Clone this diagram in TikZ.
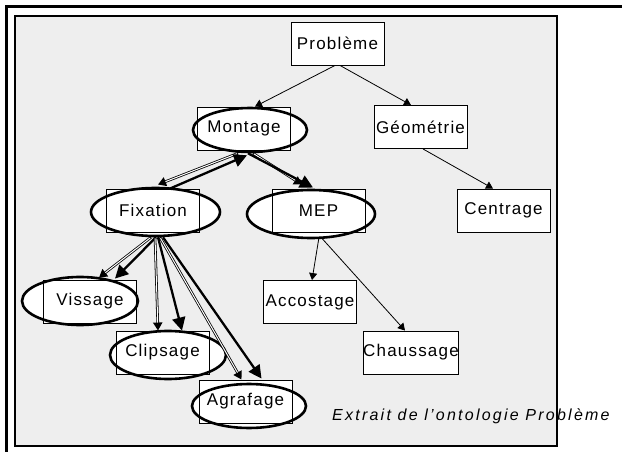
\documentclass[tikz,border=0pt]{standalone}
\usepackage{fontspec}
\setmainfont{Liberation Sans}
\newfontfamily\lblfont[LetterSpace=7]{Liberation Sans}
\newfontfamily\capfont[LetterSpace=14]{Liberation Sans}
\usetikzlibrary{arrows.meta,shapes.geometric}
\definecolor{panel}{RGB}{238,238,238}
\begin{document}
\begin{tikzpicture}[x=1pt,y=-1pt,
  lbl/.style={font=\lblfont\fontsize{17}{20}\selectfont},
  conceptbox/.style={draw=black, fill=white, line width=0.9pt,
    minimum width=93pt, minimum height=43pt, inner sep=0pt, lbl},
  ringfill/.style={ellipse, fill=white, inner sep=0pt},
  ring/.style={ellipse, draw=black, line width=2.6pt, inner sep=0pt},
  link/.style={line width=0.8pt, -{Triangle[length=7pt,width=8pt]}},
  hollow/.style={line width=2.6pt, -{Triangle[length=8pt,width=9pt]},
    postaction={draw=white, line width=1.0pt, arrows=-, shorten >=8pt, shorten <=1pt}},
  heavy/.style={line width=2.3pt, -{Triangle[length=13pt,width=13pt]}},
]
\useasboundingbox (0,0) rectangle (622,452);
% page frame and grey panel
\fill[white] (0,0) rectangle (622,452);
\draw[line width=3pt] (6,452) -- (6,7) -- (622,7);
\draw[fill=panel, line width=1.3pt] (15,16) rectangle (557,446);

% white interiors of the ringed concepts
\node[ringfill, minimum width=114pt, minimum height=44pt] at (250,130) {};
\node[ringfill, minimum width=129pt, minimum height=48pt] at (155.5,212) {};
\node[ringfill, minimum width=128pt, minimum height=48pt] at (311,214) {};
\node[ringfill, minimum width=116pt, minimum height=48pt] at (80,301) {};
\node[ringfill, minimum width=116pt, minimum height=48pt] at (168,355) {};
\node[ringfill, minimum width=114pt, minimum height=44pt] at (249,406) {};

% concept boxes
\node[conceptbox] (prob) at (337.5,43.5) {Problème};
\node[conceptbox] (mont) at (244,128.5) {Montage};
\node[conceptbox] (geo)  at (420.5,127) {Géométrie};
\node[conceptbox] (cent) at (503.5,210.5) {Centrage};
\node[conceptbox] (fix)  at (153,210.5) {Fixation};
\node[conceptbox] (mep)  at (318.5,210.5) {MEP};
\node[conceptbox] (vis)  at (90,301.5) {Vissage};
\node[conceptbox] (acc)  at (310,302) {Accostage};
\node[conceptbox] (clip) at (162.5,352.5) {Clipsage};
\node[conceptbox] (chau) at (411,352.5) {Chaussage};
\node[conceptbox] (agr)  at (245.5,401.5) {Agrafage};

% rings around the assembly concepts
\node[ring, minimum width=114pt, minimum height=44pt] (montE) at (250,130) {};
\node[ring, minimum width=129pt, minimum height=48pt] (fixE) at (155.5,212) {};
\node[ring, minimum width=128pt, minimum height=48pt] (mepE) at (311,214) {};
\node[ring, minimum width=116pt, minimum height=48pt] (visE) at (80,301) {};
\node[ring, minimum width=116pt, minimum height=48pt] (clipE) at (168,355) {};
\node[ring, minimum width=114pt, minimum height=44pt] (agrE) at (249,406) {};

% plain links
\draw[link] ([xshift=-2.5pt]prob.south) -- ([xshift=11pt]mont.north);
\draw[link] ([xshift=2.5pt]prob.south) -- ([xshift=-9.5pt]geo.north);
\draw[link] ([xshift=2.5pt]geo.south) -- ([xshift=-10.5pt]cent.north);
\draw[link] ([xshift=8pt,yshift=2pt]mepE.south) -- ([xshift=2pt]acc.north);
\draw[link] ([xshift=10pt,yshift=2pt]mepE.south) -- ([xshift=-6pt]chau.north);

% Montage links
\draw[hollow] ([xshift=-12pt]montE.south) -- ([xshift=5pt,yshift=4pt]fix.north);
\draw[heavy] ([xshift=17pt]fix.north) -- ([xshift=-3pt,yshift=-2pt]montE.south);
\draw[hollow] ([xshift=3pt]montE.south) -- ([xshift=-16.5pt,yshift=4pt]mep.north);
\draw[heavy] ([xshift=-2pt]montE.south) -- ([xshift=-5.5pt,yshift=1pt]mep.north);

% Fixation links
\draw[hollow] ([xshift=-4.5pt]fixE.south) -- ([xshift=9pt,yshift=2pt]vis.north);
\draw[heavy] ([xshift=0.5pt]fixE.south) -- ([xshift=25pt,yshift=1pt]vis.north);
\draw[hollow] ([xshift=-0.5pt]fixE.south) -- ([xshift=-4.5pt]clip.north);
\draw[heavy] ([xshift=2.5pt]fixE.south) -- ([xshift=19.5pt]clip.north);
\draw[hollow] ([xshift=4.5pt]fixE.south) -- ([xshift=-4pt]agr.north);
\draw[heavy] ([xshift=7.5pt]fixE.south) -- ([xshift=16pt,yshift=1pt]agr.north);

% caption
\node[font=\capfont\itshape\fontsize{16}{19}\selectfont, anchor=west, inner sep=0pt] (cap) at (332,416) {Extrait de l’ontologie Problème};
\end{tikzpicture}
\end{document}
